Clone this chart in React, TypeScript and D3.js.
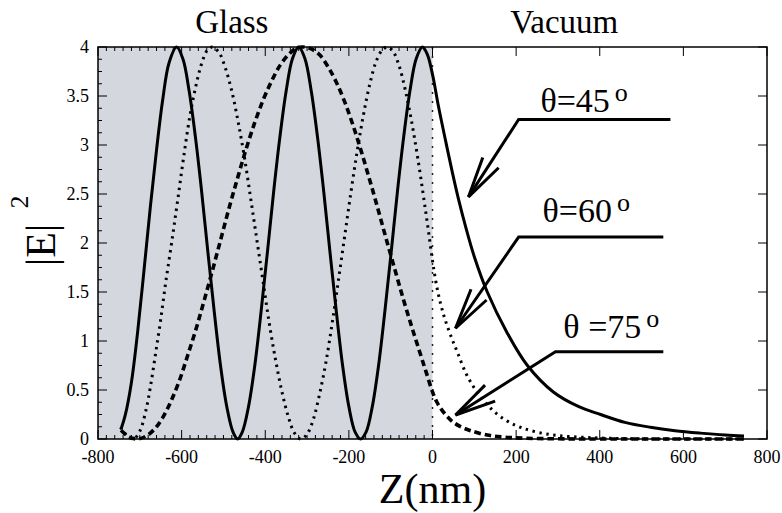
import React from 'react';
import * as d3 from 'd3';

type Pt = [number, number];

// |E|^2 vs Z(nm)
const theta45: Pt[] = [
	[-745, 0.1], [-735, 0.24], [-720, 0.58], [-705, 1.1], [-690, 1.72], [-675, 2.36], [-660, 2.95], [-645, 3.47],
	[-630, 3.84], [-612, 4.0], [-597, 3.88], [-582, 3.55], [-567, 3.08], [-552, 2.52], [-537, 1.9], [-522, 1.3],
	[-507, 0.75], [-492, 0.33], [-477, 0.07], [-466, 0], [-455, 0.07], [-440, 0.33], [-425, 0.75], [-410, 1.3],
	[-395, 1.9], [-380, 2.52], [-365, 3.08], [-350, 3.55], [-335, 3.88], [-320, 4.0], [-305, 3.88], [-290, 3.55],
	[-275, 3.08], [-260, 2.52], [-245, 1.9], [-230, 1.3], [-215, 0.75], [-200, 0.33], [-185, 0.07], [-172, 0],
	[-159, 0.07], [-144, 0.33], [-129, 0.75], [-114, 1.3], [-99, 1.9], [-84, 2.52], [-69, 3.08], [-54, 3.55],
	[-39, 3.88], [-24, 4.0], [-12, 3.92], [0, 3.72], [14, 3.4], [31, 3.05], [48, 2.71], [62, 2.45],
	[79, 2.17], [100, 1.86], [131, 1.5], [179, 1.08], [227, 0.75], [289, 0.48], [350, 0.33], [402, 0.25],
	[460, 0.17], [521, 0.12], [580, 0.085], [640, 0.06], [700, 0.04], [745, 0.03],
];

const theta60: Pt[] = [
	[-746, 0.12], [-730, 0.03], [-715, 0], [-700, 0.08], [-686, 0.28], [-674, 0.55], [-662, 0.88], [-650, 1.22],
	[-638, 1.6], [-624, 2.0], [-610, 2.42], [-595, 2.88], [-580, 3.3], [-565, 3.62], [-550, 3.86], [-538, 3.97],
	[-526, 4.0], [-510, 3.94], [-495, 3.78], [-480, 3.55], [-465, 3.24], [-450, 2.88], [-435, 2.46], [-420, 2.03],
	[-405, 1.6], [-390, 1.17], [-375, 0.8], [-360, 0.48], [-345, 0.23], [-330, 0.06], [-315, 0], [-300, 0.05],
	[-285, 0.2], [-270, 0.46], [-255, 0.78], [-240, 1.18], [-225, 1.62], [-210, 2.07], [-195, 2.52], [-180, 2.94],
	[-165, 3.31], [-150, 3.62], [-135, 3.85], [-120, 3.97], [-108, 4.0], [-95, 3.96], [-80, 3.81], [-65, 3.56],
	[-50, 3.24], [-35, 2.86], [-20, 2.43], [-10, 2.13], [0, 1.82], [10, 1.56], [20, 1.37], [30, 1.22],
	[45, 1.04], [60, 0.88], [80, 0.67], [100, 0.52], [125, 0.38], [150, 0.27], [180, 0.18], [210, 0.12],
	[250, 0.07], [300, 0.035], [370, 0.015], [450, 0.005], [550, 0], [745, 0],
];

const theta75: Pt[] = [
	[-745, 0.09], [-725, 0.02], [-705, 0], [-685, 0.03], [-665, 0.1], [-645, 0.22], [-625, 0.39], [-605, 0.6],
	[-585, 0.86], [-565, 1.13], [-545, 1.43], [-525, 1.74], [-505, 2.06], [-485, 2.38], [-465, 2.68], [-445, 2.97],
	[-425, 3.23], [-405, 3.46], [-385, 3.65], [-365, 3.81], [-345, 3.92], [-325, 3.99], [-308, 4.0], [-290, 3.98],
	[-270, 3.92], [-250, 3.8], [-230, 3.64], [-210, 3.44], [-190, 3.2], [-170, 2.93], [-150, 2.64], [-130, 2.34],
	[-110, 2.03], [-90, 1.73], [-70, 1.43], [-50, 1.15], [-30, 0.88], [-15, 0.68], [0, 0.48], [10, 0.38],
	[20, 0.31], [35, 0.23], [50, 0.17], [70, 0.12], [91, 0.085], [131, 0.04], [170, 0.02], [220, 0.008],
	[300, 0.002], [400, 0], [745, 0],
];

const zTicks = [-800, -600, -400, -200, 0, 200, 400, 600, 800];
const eTicks = [0, 0.5, 1, 1.5, 2, 2.5, 3, 3.5, 4];
const eTickLabels = ['0', '0.5', '1', '1.5', '2', '2.5', '3', '3.5', '4'];

const regionLabels = ['Glass', 'Vacuum'];
const regionAt = [-480, 315];
const angleLabels = ['θ=45', 'θ=60', 'θ =75'];

// label / leader line anchors in data units: [z, |E|^2]
const labelAt: Pt[] = [[258, 3.34], [263, 2.21], [313, 1.03]];
const leaderEnd: Pt[] = [[569, 3.26], [552, 2.06], [552, 0.89]];
const leaderElbow: Pt[] = [[206, 3.26], [206, 2.06], [294, 0.89]];
const leaderTip: Pt[] = [[86, 2.47], [55, 1.13], [55, 0.245]];

const width = 782;
const height = 513;
const marginLeft = 98;
const marginRight = 15;
const marginTop = 47;
const marginBottom = 74;

const x = d3.scaleLinear([-800, 800], [marginLeft, width - marginRight]);
const y = d3.scaleLinear([0, 4], [height - marginBottom, marginTop]);

const line = d3.line<Pt>()
	.x(d => x(d[0]))
	.y(d => y(d[1]))
	.curve(d3.curveCatmullRom.alpha(0.5));

const zMinor = d3.range(-780, 0, 20).filter(v => v % 200 !== 0);
const eMinor = d3.range(0.125, 4, 0.125).filter(v => Math.abs(v * 2 - Math.round(v * 2)) > 1e-6);

const arrowHead = (tip: Pt, from: Pt) => {
	const [tx, ty] = tip;
	const ang = Math.atan2(from[1] - ty, from[0] - tx);
	const spread = 13 * Math.PI / 180;
	const len = 42;
	const [a, b] = [ang - spread, ang + spread].map(t => [tx + len * Math.cos(t), ty + len * Math.sin(t)]);
	return `M${a[0]},${a[1]}L${tx},${ty}L${b[0]},${b[1]}`;
};

// serif text, font set on the element itself
const T: React.FC<React.SVGProps<SVGTextElement> & { size: number }> = ({ size, children, ...rest }) => (
	<text {...rest} style={{ fontFamily: "'Liberation Serif'", fontSize: `${size}px` }} fill="black">
		{children}
	</text>
);

const App: React.FC = () => {
	const x0 = x(-800), x1 = x(800), y0 = y(0), y1 = y(4);
	return (
		<svg width={width} height={height} style={{ position: 'absolute', left: 0, top: 0, background: 'white' }}>
			{/* glass region */}
			<rect x={x0} y={y1} width={x(0) - x0} height={y0 - y1} fill="#d4d7de" />
			<line x1={x(0)} x2={x(0)} y1={y1} y2={y0} stroke="#222" strokeWidth={1.5} strokeDasharray="2,7" />

			<path d={line(theta60) ?? ''} fill="none" stroke="black" strokeWidth={3} strokeDasharray="2.4,4.6" />
			<path d={line(theta75) ?? ''} fill="none" stroke="black" strokeWidth={3.6} strokeDasharray="6.5,4" />
			<path d={line(theta45) ?? ''} fill="none" stroke="black" strokeWidth={3} />

			{/* frame */}
			<rect x={x0} y={y1} width={x1 - x0} height={y0 - y1} fill="none" stroke="black" strokeWidth={1.5} />

			{/* ticks */}
			<g stroke="black" strokeWidth={1}>
				{zTicks.map(v => (
					<g key={`z${v}`}>
						<line x1={x(v)} x2={x(v)} y1={y0} y2={y0 - 9} />
						<line x1={x(v)} x2={x(v)} y1={y1} y2={y1 + 9} />
					</g>
				))}
				{eTicks.map(v => (
					<g key={`e${v}`}>
						<line x1={x0} x2={x0 + 9} y1={y(v)} y2={y(v)} />
						<line x1={x1} x2={x1 - 9} y1={y(v)} y2={y(v)} />
					</g>
				))}
				{zMinor.map(v => (
					<g key={`zm${v}`}>
						<line x1={x(v)} x2={x(v)} y1={y0} y2={y0 - 4} />
						<line x1={x(v)} x2={x(v)} y1={y1} y2={y1 + 4} />
					</g>
				))}
				{eMinor.map(v => (
					<line key={`em${v}`} x1={x0} x2={x0 + 4} y1={y(v)} y2={y(v)} />
				))}
			</g>

			{/* tick labels */}
			{zTicks.map(v => (
				<T key={`zl${v}`} size={18} x={x(v)} y={y0 + 24} textAnchor="middle">{String(v)}</T>
			))}
			{eTicks.map((v, i) => (
				<T key={`el${v}`} size={18} x={x0 - 9} y={y(v) + 6} textAnchor="end">{eTickLabels[i]}</T>
			))}

			{/* axis titles */}
			<T size={42} x={x(0)} y={503} textAnchor="middle">Z(nm)</T>
			<T size={42} transform="translate(55,245) rotate(-90)" textAnchor="middle">|E|</T>
			<T size={26} transform="translate(28,202) rotate(-90)" textAnchor="middle">2</T>

			{/* region labels */}
			{regionLabels.map((t, i) => (
				<T key={t} size={33} x={x(regionAt[i])} y={33} textAnchor="middle">{t}</T>
			))}

			{/* angle annotations */}
			{angleLabels.map((label, i) => {
				const pts = [leaderEnd[i], leaderElbow[i], leaderTip[i]].map(p => [x(p[0]), y(p[1])] as Pt);
				return (
					<g key={label}>
						<T size={34} x={x(labelAt[i][0])} y={y(labelAt[i][1])}>
							{label}
							<tspan dx={5} dy={-11} style={{ fontSize: '26px' }}>o</tspan>
						</T>
						<path d={d3.line()(pts) ?? ''} fill="none" stroke="black" strokeWidth={3} />
						<path d={arrowHead(pts[2], pts[1])} fill="none" stroke="black" strokeWidth={3} />
					</g>
				);
			})}
		</svg>
	);
};

export default App;
